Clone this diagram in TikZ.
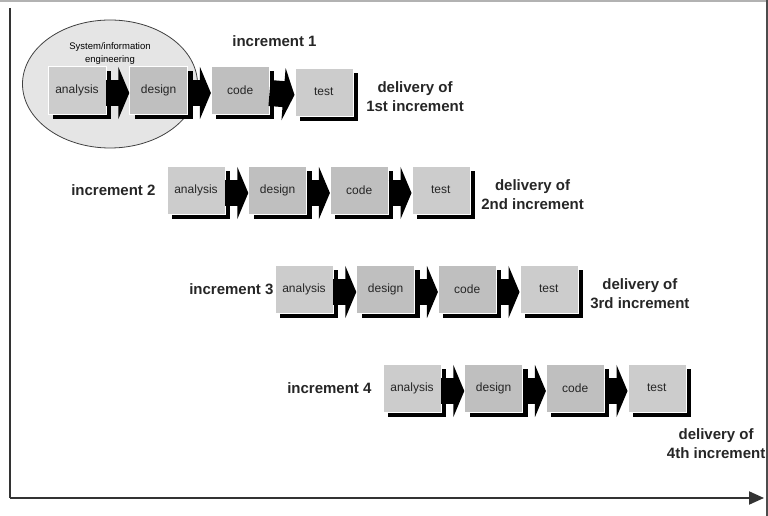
\documentclass[tikz,border=0pt]{standalone}
\usepackage{fontspec}
\setmainfont{Liberation Sans}
\usetikzlibrary{positioning, backgrounds, shadows, shapes.geometric, arrows.meta}

\begin{document}
\begin{tikzpicture}[x=1pt, y=1pt,
    phase/.style={draw=white, line width=0.6pt, minimum width=58pt, minimum height=48pt, inner sep=0pt,
        font=\fontsize{12}{14}\selectfont, text=black!85,
        drop shadow={shadow xshift=5pt, shadow yshift=-5pt, fill=black, opacity=1}},
    light/.style={phase, fill=gray!40},
    dark/.style={phase, fill=gray!50},
    flow/.style={line width=26pt, -{Triangle[width=52pt, length=11pt]}},
    tag/.style={font=\bfseries\fontsize{15}{19}\selectfont, text=black!85, align=center, inner sep=1pt},
    node distance=23pt]
    \useasboundingbox (0,0) rectangle (768,516);

    \node[light] (a1) at (77,426) {analysis};
    \node[dark, right=of a1] (d1) {design};
    \node[dark, right=of d1] (c1) {code};
    \node[light, right=25pt of c1, yshift=-2pt] (t1) {test};
    \node[tag, right=12pt of t1, yshift=-5pt] (v1) {delivery of\\1st increment};
    \node[tag, above=18pt of c1.north east, xshift=5pt] (i1) {increment 1};

    \begin{scope}[on background layer]
        \node[draw=black!75, line width=0.8pt, fill=gray!20, ellipse, inner sep=0pt,
            minimum width=175pt, minimum height=128pt] (sie) at (110,432) {};
    \end{scope}
    \node[font=\fontsize{9.5}{13}\selectfont, align=center, inner sep=1pt, below=22pt of sie.north] (sit) {System/information\\engineering};

    \node[light] (a2) at (196,326) {analysis};
    \node[dark, right=of a2] (d2) {design};
    \node[dark, right=of d2] (c2) {code};
    \node[light, right=of c2] (t2) {test};
    \node[tag, left=10pt of a2] (i2) {increment 2};
    \node[tag, right=10pt of t2, yshift=-5pt] (v2) {delivery of\\2nd increment};

    \node[light] (a3) at (304,227) {analysis};
    \node[dark, right=of a3] (d3) {design};
    \node[dark, right=of d3] (c3) {code};
    \node[light, right=of c3] (t3) {test};
    \node[tag, left=0pt of a3] (i3) {increment 3};
    \node[tag, right=11pt of t3, yshift=-5pt] (v3) {delivery of\\3rd increment};

    \node[light] (a4) at (412,128) {analysis};
    \node[dark, right=of a4] (d4) {design};
    \node[dark, right=of d4] (c4) {code};
    \node[light, right=of c4] (t4) {test};
    \node[tag, left=10pt of a4] (i4) {increment 4};
    \node[tag, below=15pt of t4.south east, xshift=30pt] (v4) {delivery of\\4th increment};

    \foreach \r in {1,...,4} {
        \draw[flow] ([yshift=-3pt]a\r.east) -- ([yshift=-3pt]d\r.west);
        \draw[flow] ([yshift=-3pt]d\r.east) -- ([yshift=-3pt]c\r.west);
        \draw[flow] ([yshift=-3pt]c\r.east) -- ([yshift=-3pt]t\r.west);
    }

    % time axes
    \coordinate (o) at (10,18);
    \coordinate (ytop) at (10,508);
    \coordinate (xend) at (764,18);
    \draw[black!80, line width=2pt] (ytop) -- (o);
    \draw[black!80, line width=2pt, -{Triangle[length=15pt, width=13pt]}] (o) -- (xend);

    % frame
    \draw[gray!60, line width=1.5pt] (0,515) -- (768,515);
    \draw[black!70, line width=2pt] (767,0) -- (767,516);

\end{tikzpicture}
\end{document}
